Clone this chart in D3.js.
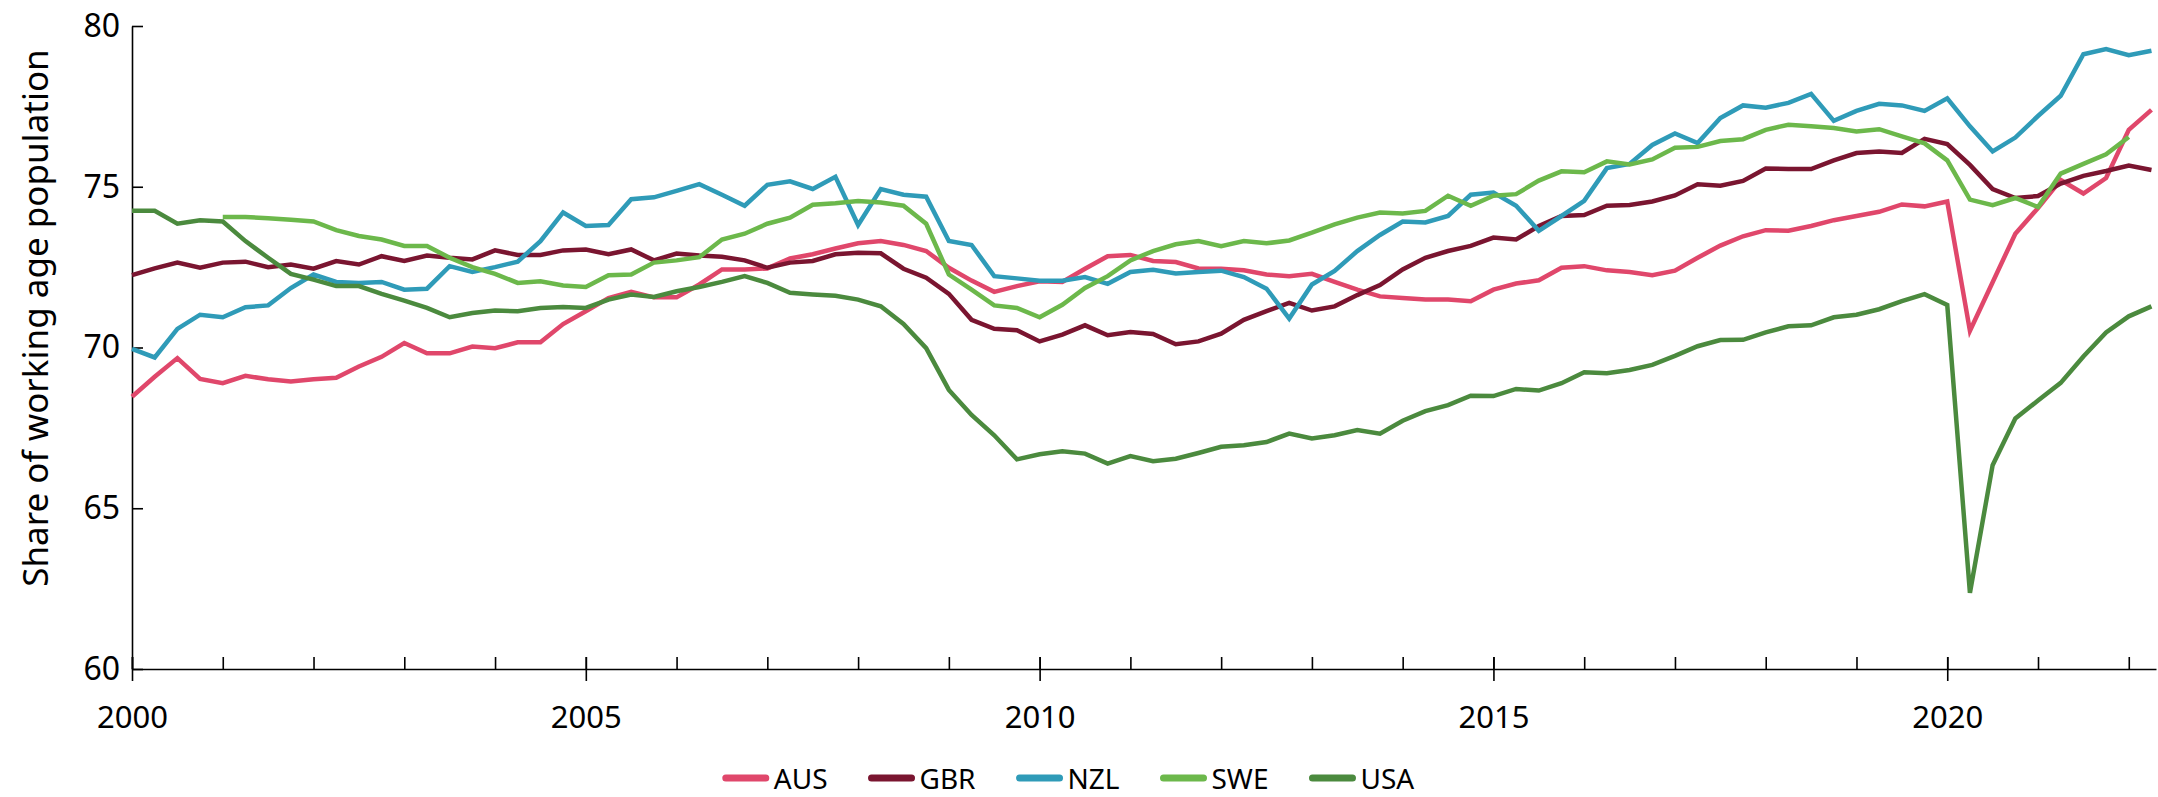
<!DOCTYPE html>
<html>
<head>
<meta charset="utf-8">
<script src="https://cdn.jsdelivr.net/npm/d3@7"></script>
<style>
body { margin: 0; background: #fff; }
text { font-family: "Noto Sans", "Open Sans", sans-serif; fill: #000; }
.axis path, .axis line { stroke: #000; stroke-width: 1.6px; }
</style>
</head>
<body>
<svg id="chart" width="2158" height="797"></svg>
<script>

// quarterly observations, 2000Q1 .. 2022Q2
var quarters = d3.range(90).map(i => 2000 + i / 4);

var countries = [ 'AUS', 'GBR', 'NZL', 'SWE', 'USA' ];

var AUS = [ 68.47, 69.09, 69.67, 69.02, 68.89, 69.12, 69.01, 68.94, 69.01, 69.06, 69.41,
            69.71, 70.14, 69.82, 69.82, 70.03, 69.98, 70.16, 70.16, 70.73, 71.13, 71.54,
            71.73, 71.56, 71.56, 71.96, 72.43, 72.43, 72.46, 72.77, 72.90, 73.08, 73.24,
            73.31, 73.19, 73.00, 72.48, 72.08, 71.73, 71.91, 72.06, 72.04, 72.45, 72.84,
            72.88, 72.69, 72.66, 72.46, 72.45, 72.40, 72.27, 72.22, 72.29, 72.04, 71.80,
            71.59, 71.54, 71.49, 71.49, 71.44, 71.80, 71.99, 72.09, 72.48, 72.53, 72.40,
            72.35, 72.25, 72.39, 72.79, 73.17, 73.46, 73.65, 73.63, 73.78, 73.96, 74.09,
            74.22, 74.45, 74.39, 74.54, 70.52, 72.03, 73.54, 74.34, 75.21, 74.79, 75.27, 76.77, 77.39 ];

var GBR = [ 72.25, 72.46, 72.64, 72.48, 72.64, 72.67, 72.50, 72.58, 72.45, 72.69, 72.58,
            72.84, 72.69, 72.86, 72.79, 72.74, 73.02, 72.88, 72.88, 73.02, 73.05, 72.90,
            73.05, 72.71, 72.92, 72.86, 72.82, 72.71, 72.48, 72.64, 72.69, 72.90, 72.95,
            72.93, 72.45, 72.17, 71.67, 70.86, 70.58, 70.54, 70.19, 70.40, 70.69, 70.38,
            70.48, 70.42, 70.10, 70.19, 70.43, 70.86, 71.13, 71.39, 71.15, 71.28, 71.63,
            71.94, 72.43, 72.79, 73.00, 73.16, 73.42, 73.36, 73.78, 74.09, 74.12, 74.41,
            74.43, 74.54, 74.73, 75.08, 75.03, 75.18, 75.57, 75.55, 75.55, 75.82, 76.05,
            76.10, 76.05, 76.49, 76.33, 75.68, 74.93, 74.65, 74.71, 75.10, 75.34, 75.49, 75.66, 75.52 ];

var NZL = [ 69.96, 69.69, 70.58, 71.02, 70.94, 71.25, 71.31, 71.85, 72.27, 72.04, 72.01,
            72.04, 71.80, 71.83, 72.53, 72.35, 72.50, 72.67, 73.31, 74.20, 73.78, 73.81,
            74.61, 74.67, 74.87, 75.08, 74.75, 74.41, 75.06, 75.17, 74.93, 75.31, 73.81,
            74.93, 74.75, 74.69, 73.31, 73.19, 72.22, 72.15, 72.08, 72.08, 72.19, 71.98,
            72.35, 72.42, 72.30, 72.35, 72.39, 72.19, 71.83, 70.90, 71.96, 72.38, 73.00,
            73.50, 73.92, 73.89, 74.09, 74.75, 74.82, 74.41, 73.63, 74.09, 74.56, 75.58,
            75.71, 76.30, 76.66, 76.36, 77.14, 77.53, 77.46, 77.61, 77.89, 77.05, 77.36,
            77.58, 77.53, 77.36, 77.75, 76.88, 76.10, 76.53, 77.20, 77.83, 79.12, 79.28, 79.09, 79.23 ];

// SWE starts in 2001 and has no 2022Q2 value yet
var SWE = [ null, null, null, null, 74.06, 74.06, 74.02, 73.97, 73.92, 73.65, 73.47,
            73.36, 73.16, 73.16, 72.79, 72.50, 72.29, 72.01, 72.06, 71.93, 71.88, 72.25,
            72.27, 72.64, 72.71, 72.81, 73.36, 73.54, 73.85, 74.04, 74.44, 74.49, 74.56,
            74.51, 74.41, 73.85, 72.27, 71.80, 71.31, 71.23, 70.94, 71.33, 71.85, 72.22,
            72.71, 73.00, 73.21, 73.31, 73.15, 73.31, 73.24, 73.33, 73.57, 73.83, 74.04,
            74.20, 74.17, 74.25, 74.72, 74.41, 74.72, 74.77, 75.19, 75.48, 75.45, 75.79,
            75.69, 75.85, 76.21, 76.24, 76.42, 76.48, 76.77, 76.93, 76.88, 76.83, 76.72,
            76.79, 76.57, 76.35, 75.82, 74.60, 74.43, 74.65, 74.37, 75.41, 75.71, 76.01, 76.55, null ];

var USA = [ 74.25, 74.25, 73.85, 73.96, 73.92, 73.31, 72.79, 72.29, 72.11, 71.91, 71.91,
            71.67, 71.46, 71.23, 70.94, 71.07, 71.15, 71.13, 71.23, 71.26, 71.23, 71.49,
            71.65, 71.57, 71.75, 71.88, 72.04, 72.22, 72.01, 71.70, 71.65, 71.61, 71.49,
            71.28, 70.73, 69.98, 68.68, 67.90, 67.27, 66.52, 66.68, 66.77, 66.70, 66.39,
            66.62, 66.46, 66.54, 66.72, 66.91, 66.96, 67.06, 67.32, 67.17, 67.27, 67.43,
            67.32, 67.72, 68.02, 68.21, 68.50, 68.49, 68.71, 68.66, 68.89, 69.23, 69.20,
            69.30, 69.46, 69.74, 70.04, 70.23, 70.24, 70.47, 70.66, 70.69, 70.94, 71.02,
            71.19, 71.44, 71.66, 71.32, 62.37, 66.34, 67.79, 68.35, 68.90, 69.72, 70.47, 70.97, 71.28 ];

var yTicks = [ 60, 65, 70, 75, 80 ];
var xMinorTicks = d3.range(2000, 2023);
var xMajorTicks = [ 2000, 2005, 2010, 2015, 2020 ];
var yTitle = 'Share of working age population';

var palette = d3.scaleOrdinal()
    .domain(countries)
    .range([ '#e0476b', '#7a1530', '#2f9bb8', '#6cb84b', '#4b8a3e' ]);

var seriesData = { AUS: AUS, GBR: GBR, NZL: NZL, SWE: SWE, USA: USA };

//-------------------------------------------------------------------------------

var svg = d3.select('#chart');

var x = d3.scaleLinear().domain([ 2000, 2022.3 ]).range([ 132, 2156 ]);
var y = d3.scaleLinear().domain([ 60, 80 ]).range([ 669, 26 ]);

// y axis, ticks pointing into the plot
svg.append('g')
    .attr('class', 'axis')
    .attr('transform', 'translate(132,0)')
    .call(d3.axisLeft(y).tickValues(yTicks).tickSize(-11).tickSizeOuter(0).tickPadding(12))
    .call(g => g.selectAll('text').style('font-size', '32px'));

// x axis: minor ticks upward for every year
svg.append('g')
    .attr('class', 'axis')
    .attr('transform', 'translate(0,669)')
    .call(d3.axisBottom(x).tickValues(xMinorTicks).tickSize(-12).tickSizeOuter(0).tickFormat(''));

// major ticks cross the axis and carry the labels
svg.append('g')
    .attr('class', 'axis')
    .attr('transform', 'translate(0,669)')
    .call(d3.axisBottom(x).tickValues(xMajorTicks).tickSize(12).tickSizeOuter(0).tickPadding(25).tickFormat(d3.format('d')))
    .call(g => g.select('.domain').remove())
    .call(g => g.selectAll('line').attr('y1', -12))
    .call(g => g.selectAll('text').style('font-size', '31px'));

svg.append('text')
    .attr('transform', 'translate(34,318) rotate(-90)')
    .attr('text-anchor', 'middle')
    .attr('dominant-baseline', 'central')
    .style('font-size', '35px')
    .text(yTitle);

//-------------------------------------------------------------------------------

var line = d3.line()
    .defined(d => d != null)
    .x((d, i) => x(quarters[i]))
    .y(d => y(d));

svg.append('g')
    .selectAll('path')
    .data(countries)
    .join('path')
    .attr('fill', 'none')
    .attr('stroke', palette)
    .attr('stroke-width', 4.5)
    .attr('d', c => line(seriesData[c]));

//-------------------------------------------------------------------------------
// legend, centred under the chart

var legend = svg.append('g');
var xPos = 0;
countries.forEach(function (c) {
    var item = legend.append('g').attr('transform', 'translate(' + xPos + ',0)');
    item.append('line')
        .attr('x1', 4).attr('x2', 44)
        .attr('stroke', palette(c))
        .attr('stroke-width', 7)
        .attr('stroke-linecap', 'round');
    var t = item.append('text')
        .attr('x', 52)
        .attr('dominant-baseline', 'central')
        .style('font-size', '28px')
        .text(c);
    xPos += 52 + t.node().getComputedTextLength() + 40;
});
var legendWidth = xPos - 40;
legend.attr('transform', 'translate(' + (1068 - legendWidth / 2) + ',778)');

</script>
</body>
</html>
